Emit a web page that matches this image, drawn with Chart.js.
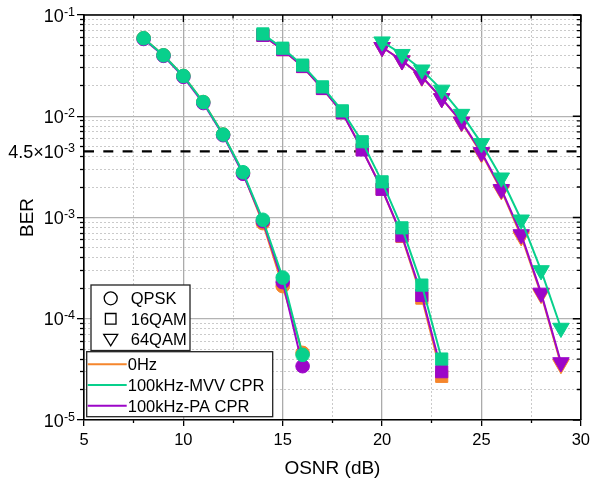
<!DOCTYPE html>
<html>
<head>
<meta charset="utf-8">
<script src="https://cdn.jsdelivr.net/npm/chart.js@4.4.1/dist/chart.umd.min.js"></script>
<style>
  html, body { margin: 0; padding: 0; background: #fff; }
  #wrap { width: 595px; height: 488px; }
</style>
</head>
<body>
<div id="wrap"><canvas id="chart"></canvas></div>
<script>
// OSNR values (dB) for each modulation format
const osnrQPSK = [8, 9, 10, 11, 12, 13, 14, 15, 16];
const osnr16QAM = [14, 15, 16, 17, 18, 19, 20, 21, 22, 23];
const osnr64QAM = [20, 21, 22, 23, 24, 25, 26, 27, 28, 29];

// BER, QPSK
const qpsk0Hz = [5.9e-2, 4.0e-2, 2.5e-2, 1.38e-2, 6.6e-3, 2.75e-3, 8.8e-4, 2.1e-4, 4.6e-5];
const qpskMVV = [5.9e-2, 4.0e-2, 2.5e-2, 1.38e-2, 6.6e-3, 2.8e-3, 9.5e-4, 2.55e-4, 4.4e-5];
const qpskPA = [5.8e-2, 3.95e-2, 2.45e-2, 1.35e-2, 6.5e-3, 2.7e-3, 9.2e-4, 2.3e-4, 3.4e-5];

// BER, 16QAM
const qam16_0Hz = [6.3e-2, 4.55e-2, 3.1e-2, 1.88e-2, 1.08e-2, 4.7e-3, 1.9e-3, 6.5e-4, 1.6e-4, 2.7e-5];
const qam16MVV = [6.5e-2, 4.7e-2, 3.2e-2, 1.95e-2, 1.13e-2, 5.6e-3, 2.25e-3, 7.9e-4, 2.15e-4, 4.0e-5];
const qam16PA = [6.3e-2, 4.55e-2, 3.1e-2, 1.88e-2, 1.08e-2, 4.65e-3, 1.9e-3, 6.6e-4, 1.7e-4, 3.0e-5];

// BER, 64QAM
const qam64_0Hz = [4.8e-2, 3.55e-2, 2.45e-2, 1.5e-2, 8.7e-3, 4.3e-3, 1.85e-3, 6.5e-4, 1.75e-4, 3.55e-5];
const qam64MVV = [5.45e-2, 4.1e-2, 2.88e-2, 1.82e-2, 1.05e-2, 5.4e-3, 2.47e-3, 9.5e-4, 3.0e-4, 8.1e-5];
const qam64PA = [4.8e-2, 3.55e-2, 2.47e-2, 1.5e-2, 8.8e-3, 4.4e-3, 1.9e-3, 6.8e-4, 1.8e-4, 3.7e-5];

// FEC threshold
const berLimit = 4.5e-3;
const berLimitLabel = ['4.5\u00d710', '-3'];

// axis ticks
const xMajorTicks = [5, 10, 15, 20, 25, 30];
const xMinorTicks = [7.5, 12.5, 17.5, 22.5, 27.5];
const yMajorExp = [-5, -4, -3, -2, -1];
const yMinorTicks = [];
for (const e of [-5, -4, -3, -2]) {
  for (let m = 2; m <= 9; m++) yMinorTicks.push(m * Math.pow(10, e));
}

const formatNames = ['QPSK', '16QAM', '64QAM'];
const seriesNames = ['0Hz', '100kHz-MVV CPR', '100kHz-PA CPR'];

const FONT = '"Liberation Sans", Arial, Helvetica, sans-serif';
const colors = { '0Hz': '#F5862C', '100kHz-MVV CPR': '#08D08C', '100kHz-PA CPR': '#9C06C8' };
const drawOrder = { '0Hz': 3, '100kHz-MVV CPR': 1, '100kHz-PA CPR': 2 };

const formats = [
  { name: 'QPSK', x: osnrQPSK, style: 'circle', radius: 6.8, rot: 0,
    ys: { '0Hz': qpsk0Hz, '100kHz-MVV CPR': qpskMVV, '100kHz-PA CPR': qpskPA } },
  { name: '16QAM', x: osnr16QAM, style: 'rect', radius: 8.6, rot: 0,
    ys: { '0Hz': qam16_0Hz, '100kHz-MVV CPR': qam16MVV, '100kHz-PA CPR': qam16PA } },
  { name: '64QAM', x: osnr64QAM, style: 'triangle', radius: 9.5, rot: 180,
    ys: { '0Hz': qam64_0Hz, '100kHz-MVV CPR': qam64MVV, '100kHz-PA CPR': qam64PA } }
];

let datasets = [];
for (let f of formats) {
  for (let s of seriesNames) {
    datasets.push({
      label: s + ' ' + f.name,
      data: f.x.map((x, i) => ({ x: x, y: f.ys[s][i] })),
      borderColor: colors[s],
      backgroundColor: colors[s],
      borderWidth: 2,
      pointStyle: f.style,
      pointRadius: f.radius,
      pointRotation: f.rot,
      pointBorderWidth: 1,
      pointBorderColor: colors[s],
      pointBackgroundColor: colors[s],
      order: drawOrder[s],
      tension: 0
    });
  }
}
datasets.push({
  label: 'limit',
  data: [{ x: xMajorTicks[0], y: berLimit }, { x: xMajorTicks[xMajorTicks.length - 1], y: berLimit }],
  borderColor: '#000',
  borderWidth: 2.2,
  borderDash: [10, 9.3],
  pointRadius: 0,
  order: 10
});

function supLabel(ctx, base, sup, xRight, py) {
  ctx.textAlign = 'right';
  ctx.textBaseline = 'alphabetic';
  ctx.font = '12.5px ' + FONT;
  const sw = ctx.measureText(sup).width;
  ctx.fillText(sup, xRight, py + 0.5);
  ctx.font = '18px ' + FONT;
  ctx.fillText(base, xRight - sw, py + 6.5);
}

const decor = {
  id: 'decor',
  afterDraw(chart) {
    const { ctx, chartArea: a, scales } = chart;
    ctx.save();
    ctx.strokeStyle = '#000';

    // inward ticks on top and right
    ctx.lineWidth = 1.3;
    ctx.beginPath();
    for (const t of scales.x.ticks) {
      const px = scales.x.getPixelForValue(t.value);
      ctx.moveTo(px, a.top); ctx.lineTo(px, a.top + 7);
    }
    for (const t of scales.x2.ticks) {
      const px = scales.x2.getPixelForValue(t.value);
      ctx.moveTo(px, a.top); ctx.lineTo(px, a.top + 3.5);
    }
    for (const t of scales.y.ticks) {
      const py = scales.y.getPixelForValue(t.value);
      ctx.moveTo(a.right, py); ctx.lineTo(a.right - 8, py);
    }
    for (const t of scales.y2.ticks) {
      const py = scales.y2.getPixelForValue(t.value);
      ctx.moveTo(a.right, py); ctx.lineTo(a.right - 4, py);
    }
    ctx.stroke();

    // top and right frame
    ctx.lineWidth = 1.6;
    ctx.beginPath();
    ctx.moveTo(a.left, a.top); ctx.lineTo(a.right, a.top); ctx.lineTo(a.right, a.bottom);
    ctx.stroke();

    // y tick labels 10^n
    ctx.fillStyle = '#000';
    for (const e of yMajorExp) {
      supLabel(ctx, '10', String(e), a.left - 9, scales.y.getPixelForValue(Math.pow(10, e)));
    }
    supLabel(ctx, berLimitLabel[0], berLimitLabel[1], a.left - 9, scales.y.getPixelForValue(berLimit));

    // legend 1: modulation formats
    ctx.lineWidth = 1.3;
    ctx.strokeStyle = '#222';
    let bx = a.left + 7, by = a.bottom - 135;
    ctx.fillStyle = '#fff';
    ctx.fillRect(bx, by, 99, 65.5);
    ctx.strokeRect(bx, by, 99, 65.5);
    ctx.font = '16.5px ' + FONT;
    ctx.textAlign = 'left';
    ctx.textBaseline = 'alphabetic';
    formatNames.forEach((n, i) => {
      const cy = by + 13.3 + i * 20.5;
      const cx = bx + 19.7;
      ctx.strokeStyle = '#000';
      ctx.beginPath();
      if (i === 0) {
        ctx.arc(cx, cy, 6.5, 0, Math.PI * 2);
      } else if (i === 1) {
        ctx.rect(cx - 5.3, cy - 5.3, 10.6, 10.6);
      } else {
        ctx.moveTo(cx - 7, cy - 5); ctx.lineTo(cx + 7, cy - 5); ctx.lineTo(cx, cy + 6.5); ctx.closePath();
      }
      ctx.stroke();
      ctx.fillStyle = '#000';
      ctx.fillText(n, bx + 39.7, cy + 6);
    });

    // legend 2: CPR series
    bx = a.left + 2.7; by = a.bottom - 68.3;
    ctx.fillStyle = '#fff';
    ctx.strokeStyle = '#222';
    ctx.fillRect(bx, by, 186, 65);
    ctx.strokeRect(bx, by, 186, 65);
    seriesNames.forEach((n, i) => {
      const cy = by + 12.6 + i * 20.7;
      ctx.strokeStyle = colors[n];
      ctx.lineWidth = 2;
      ctx.beginPath();
      ctx.moveTo(bx + 1, cy); ctx.lineTo(bx + 40, cy);
      ctx.stroke();
      ctx.fillStyle = '#000';
      ctx.fillText(n, bx + 41, cy + 6);
    });
    ctx.restore();
  }
};

new Chart(document.getElementById('chart'), {
  type: 'line',
  data: { datasets: datasets },
  plugins: [decor],
  options: {
    responsive: true,
    maintainAspectRatio: false,
    devicePixelRatio: 1,
    animation: false,
    events: [],
    layout: { padding: { top: 15, right: 11, left: 0, bottom: 0 } },
    plugins: { legend: { display: false }, tooltip: { enabled: false } },
    scales: {
      x: {
        type: 'linear', position: 'bottom', min: 5, max: 30, weight: 2,
        afterBuildTicks: s => { s.ticks = xMajorTicks.map(v => ({ value: v })); },
        afterFit: s => { s.height = 68; },
        ticks: { font: { family: FONT, size: 16.5 }, color: '#000', padding: 5, maxRotation: 0, autoSkip: false },
        grid: { color: '#ababab', lineWidth: 1.3, tickColor: '#000', tickLength: 6, tickWidth: 1.3 },
        border: { color: '#000', width: 1.6 },
        title: { display: true, text: 'OSNR (dB)', color: '#000', font: { family: FONT, size: 19 }, padding: { bottom: 7.5, top: 0 } }
      },
      x2: {
        type: 'linear', position: 'bottom', min: 5, max: 30, weight: 1,
        afterBuildTicks: s => { s.ticks = xMinorTicks.map(v => ({ value: v })); },
        afterFit: s => { s.height = 0; },
        ticks: { display: false },
        grid: { color: '#cacaca', lineWidth: 1, tickColor: '#000', tickLength: 3, tickWidth: 1.3 },
        border: { display: false, dash: [2, 2] }
      },
      y: {
        type: 'logarithmic', position: 'left', min: 1e-5, max: 1e-1, weight: 2,
        afterBuildTicks: s => { s.ticks = yMajorExp.map(e => ({ value: Math.pow(10, e) })); },
        afterFit: s => { s.width = 84; },
        ticks: { display: false },
        grid: { color: '#b3b3b3', lineWidth: 1.3, tickColor: '#000', tickLength: 7, tickWidth: 1.3 },
        border: { color: '#000', width: 1.6 },
        title: { display: true, text: 'BER', color: '#000', font: { family: FONT, size: 19 }, padding: { top: 16.6, bottom: 0 } }
      },
      y2: {
        type: 'logarithmic', position: 'left', min: 1e-5, max: 1e-1, weight: 1,
        afterBuildTicks: s => { s.ticks = yMinorTicks.map(v => ({ value: v })); },
        afterFit: s => { s.width = 0; },
        ticks: { display: false },
        grid: { color: '#cacaca', lineWidth: 1, tickColor: '#000', tickLength: 4, tickWidth: 1.3 },
        border: { display: false, dash: [2, 2] }
      }
    }
  }
});
</script>
</body>
</html>
